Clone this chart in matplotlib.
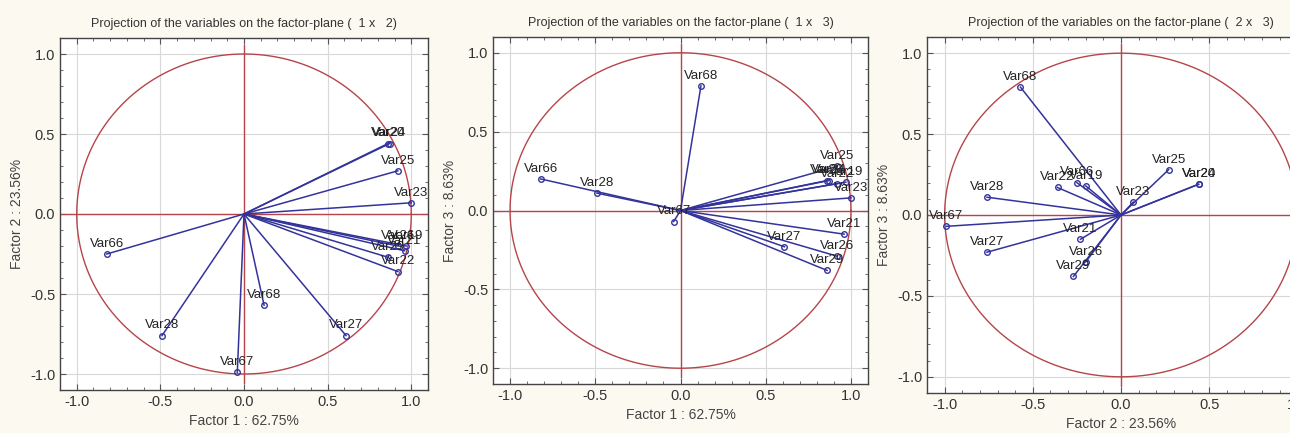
import numpy as np
import matplotlib
matplotlib.use("Agg")
import matplotlib.pyplot as plt
from matplotlib.ticker import MultipleLocator, FormatStrFormatter

# factor loadings of each variable on the first three factors
variables = ["Var19", "Var20", "Var21", "Var22", "Var23", "Var24", "Var25",
             "Var26", "Var27", "Var28", "Var29", "Var66", "Var67", "Var68"]
factor1 = [0.97, 0.86, 0.96, 0.92, 1.00, 0.87, 0.92,
           0.92, 0.61, -0.49, 0.86, -0.82, -0.04, 0.12]
factor2 = [-0.20, 0.44, -0.23, -0.36, 0.07, 0.44, 0.27,
           -0.20, -0.76, -0.76, -0.27, -0.25, -0.99, -0.57]
factor3 = [0.18, 0.19, -0.15, 0.17, 0.08, 0.19, 0.28,
           -0.29, -0.23, 0.11, -0.38, 0.20, -0.07, 0.79]
explained = {1: "62.75%", 2: "23.56%", 3: "8.63%"}

plt.rcParams['font.family'] = ['Liberation Sans', 'DejaVu Sans']

BG = "#fcf9f1"
CIRCLE = "#b5454a"
VEC = "#33339c"

fig = plt.figure(figsize=(12.9, 4.33), dpi=100, facecolor=BG)

loadings = {1: factor1, 2: factor2, 3: factor3}
panels = [(1, 2), (1, 3), (2, 3)]
# axes boxes in pixels: left, bottom(from top), right, top(from top)
boxes = [(60, 390, 428, 38), (493, 384, 868, 37), (927, 393, 1315, 37)]

theta = np.linspace(0, 2 * np.pi, 400)
W, H = 1290, 433

for (fx, fy), (l, b, r, t) in zip(panels, boxes):
    ax = fig.add_axes([l / W, 1 - b / H, (r - l) / W, (b - t) / H])
    ax.set_facecolor("white")
    ax.set_xlim(-1.1, 1.1)
    ax.set_ylim(-1.1, 1.1)
    ax.xaxis.set_major_locator(MultipleLocator(0.5))
    ax.yaxis.set_major_locator(MultipleLocator(0.5))
    ax.xaxis.set_minor_locator(MultipleLocator(0.1))
    ax.yaxis.set_minor_locator(MultipleLocator(0.1))
    ax.xaxis.set_major_formatter(FormatStrFormatter("%.1f"))
    ax.yaxis.set_major_formatter(FormatStrFormatter("%.1f"))
    ax.tick_params(which="both", direction="in", top=True, right=True,
                   colors="#555555", labelcolor="#333333", labelsize=10.5)
    ax.tick_params(which="major", length=4)
    ax.tick_params(which="minor", length=2)
    ax.grid(True, which="major", color="#d8d8d8", linewidth=0.8)
    ax.set_axisbelow(True)
    for s in ax.spines.values():
        s.set_color("#444444")
        s.set_linewidth(1.0)

    ax.plot(np.cos(theta), np.sin(theta), color=CIRCLE, linewidth=1.0)
    ax.axhline(0, color=CIRCLE, linewidth=1.0)
    ax.axvline(0, color=CIRCLE, linewidth=1.0, ymin=0.02, ymax=0.98)

    xs, ys = loadings[fx], loadings[fy]
    for name, x, y in zip(variables, xs, ys):
        ax.plot([0, x], [0, y], color=VEC, linewidth=1.1)
        ax.plot(x, y, marker="o", markersize=4, markerfacecolor="none",
                markeredgecolor=VEC, markeredgewidth=1.0)
        ax.annotate(name, (x, y), xytext=(0, 3), textcoords="offset points",
                    ha="center", va="bottom", fontsize=9.5, color="#222222")

    ax.set_title(f"Projection of the variables on the factor-plane (  {fx} x   {fy})",
                 fontsize=9, color="#333333", pad=8)
    ax.set_xlabel(f"Factor {fx} : {explained[fx]}", fontsize=10, color="#444444",
                  labelpad=4)
    ax.set_ylabel(f"Factor {fy} : {explained[fy]}", fontsize=10, color="#444444",
                  labelpad=4)

fig.savefig("out.png", dpi=100, facecolor=BG)
